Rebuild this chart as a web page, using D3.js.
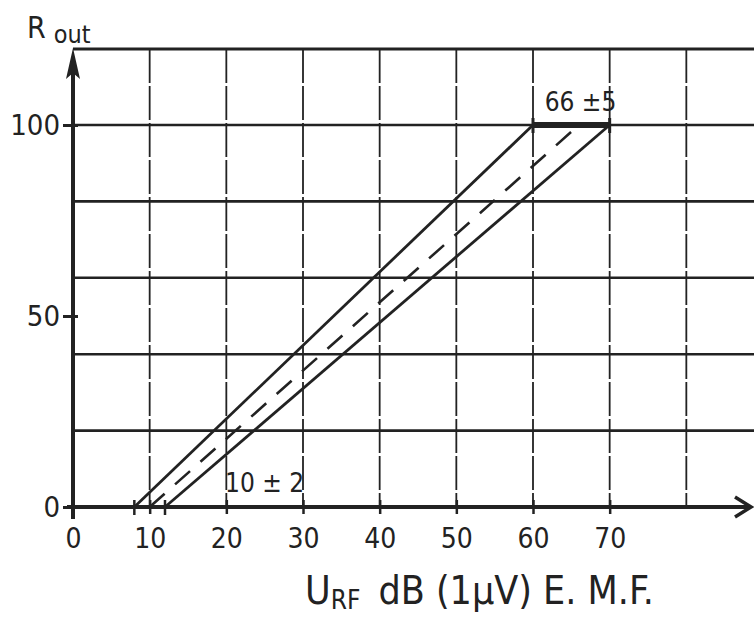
<!DOCTYPE html>
<html>
<head>
<meta charset="utf-8">
<script src="https://cdn.jsdelivr.net/npm/d3@7"></script>
<style>
  body { margin: 0; background: #fff; }
  text { font-family: "DejaVu Sans Condensed", "DejaVu Sans", sans-serif; fill: #222; }
</style>
</head>
<body>
<div id="chart"></div>
<script>
// chart data
var xTicks = [0, 10, 20, 30, 40, 50, 60, 70]
var xMinorTicks = [8, 12]
var xGrid = [10, 20, 30, 40, 50, 60, 70, 80]
var yTicks = [0, 50, 100]
var yGrid = [20, 40, 60, 80, 100]
var upperLine = [[8, 0], [60, 100]]
var lowerLine = [[12, 0], [70, 100]]
var nominalLine = [[10, 0], [66, 100]]
var toleranceBar = [60, 70]
var barLabel = "66 ±5"
var startLabel = "10 ± 2"

var svgWidth = 754
var svgHeight = 617

var svg = d3.select("#chart")
  .append("svg")
  .attr("width", svgWidth)
  .attr("height", svgHeight)

var ink = "#222"

var xScale = d3.scaleLinear().domain([0, 90]).range([73, 763])
var yScale = d3.scaleLinear().domain([0, 100]).range([507, 125])
var yTop = 49

// grid
svg.append("g").selectAll("line")
  .data(xGrid).enter().append("line")
  .attr("x1", d => xScale(d)).attr("x2", d => xScale(d))
  .attr("y1", yTop).attr("y2", yScale(0))
  .attr("stroke", ink).attr("stroke-width", 1.8)
  .attr("stroke-dasharray", "34,3")

svg.append("g").selectAll("line")
  .data(yGrid).enter().append("line")
  .attr("x1", xScale(0)).attr("x2", svgWidth)
  .attr("y1", d => yScale(d)).attr("y2", d => yScale(d))
  .attr("stroke", ink).attr("stroke-width", 2.6)

// top border
svg.append("line")
  .attr("x1", xScale(0)).attr("x2", svgWidth)
  .attr("y1", yTop).attr("y2", yTop)
  .attr("stroke", ink).attr("stroke-width", 3)

// x axis
var bottomAxis = d3.axisBottom(xScale).tickValues(xTicks).tickSize(7).tickPadding(14)
var xAxis = svg.append("g")
  .attr("transform", `translate(0, ${yScale(0)})`)
  .call(bottomAxis)
xAxis.select(".domain").remove()
xAxis.selectAll(".tick line").attr("y1", -7).attr("stroke", ink).attr("stroke-width", 2.5)
xAxis.selectAll(".tick text").style("font-size", "28px").attr("fill", ink).attr("font-family", null)

svg.append("g").selectAll("line")
  .data(xMinorTicks).enter().append("line")
  .attr("x1", d => xScale(d)).attr("x2", d => xScale(d))
  .attr("y1", yScale(0) - 7).attr("y2", yScale(0) + 8)
  .attr("stroke", ink).attr("stroke-width", 2.5)

svg.append("line")
  .attr("x1", xScale(0) - 6).attr("x2", 750)
  .attr("y1", yScale(0)).attr("y2", yScale(0))
  .attr("stroke", ink).attr("stroke-width", 4)
svg.append("path")
  .attr("d", `M735,${yScale(0) - 10} L751,${yScale(0)} L735,${yScale(0) + 10}`)
  .attr("fill", "none").attr("stroke", ink).attr("stroke-width", 3.5)

// y axis
var leftAxis = d3.axisLeft(yScale).tickValues(yTicks).tickSize(10).tickPadding(3)
var yAxis = svg.append("g")
  .attr("transform", `translate(${xScale(0)}, 0)`)
  .call(leftAxis)
yAxis.select(".domain").remove()
yAxis.selectAll(".tick line").attr("x2", 5).attr("x1", -10).attr("stroke", ink).attr("stroke-width", 3)
yAxis.selectAll(".tick text").style("font-size", "29px").attr("fill", ink).attr("font-family", null)

svg.append("line")
  .attr("x1", xScale(0)).attr("x2", xScale(0))
  .attr("y1", yScale(0) + 12).attr("y2", yTop + 10)
  .attr("stroke", ink).attr("stroke-width", 4)
svg.append("path")
  .attr("d", `M${xScale(0)},${yTop - 1} L${xScale(0) + 7},${yTop + 30} L${xScale(0)},${yTop + 24} L${xScale(0) - 7},${yTop + 30} Z`)
  .attr("fill", ink)

// characteristic lines
var line = d3.line().x(d => xScale(d[0])).y(d => yScale(d[1]))

svg.append("path").datum(upperLine).attr("d", line)
  .attr("fill", "none").attr("stroke", ink).attr("stroke-width", 2.8)
svg.append("path").datum(lowerLine).attr("d", line)
  .attr("fill", "none").attr("stroke", ink).attr("stroke-width", 2.8)
svg.append("path").datum(nominalLine).attr("d", line)
  .attr("fill", "none").attr("stroke", ink).attr("stroke-width", 2.6)
  .attr("stroke-dasharray", "20,14")

// tolerance bar at top
svg.append("line")
  .attr("x1", xScale(toleranceBar[0])).attr("x2", xScale(toleranceBar[1]))
  .attr("y1", yScale(100)).attr("y2", yScale(100))
  .attr("stroke", ink).attr("stroke-width", 6)
svg.append("g").selectAll("line")
  .data(toleranceBar).enter().append("line")
  .attr("x1", d => xScale(d)).attr("x2", d => xScale(d))
  .attr("y1", yScale(100) - 7).attr("y2", yScale(100) + 8)
  .attr("stroke", ink).attr("stroke-width", 3)

svg.append("text")
  .attr("x", xScale(66.2)).attr("y", yScale(100) - 14)
  .style("text-anchor", "middle").style("font-size", "26px")
  .text(barLabel)

svg.append("text")
  .attr("x", xScale(25)).attr("y", yScale(0) - 15)
  .style("text-anchor", "middle").style("font-size", "26px")
  .text(startLabel)

// axis titles
var yTitle = svg.append("text").attr("x", 27).attr("y", 38)
yTitle.append("tspan").style("font-size", "30px").text("R")
yTitle.append("tspan").attr("dx", 8).attr("dy", 5).style("font-size", "25px").text("out")

var xTitle = svg.append("text").attr("x", 305).attr("y", 604)
xTitle.append("tspan").style("font-size", "39px").text("U")
xTitle.append("tspan").attr("dy", 5).style("font-size", "26px").text("RF")
xTitle.append("tspan").attr("dx", 18).attr("dy", -5).style("font-size", "39px").text("dB (1µV) E. M.F.")
</script>
</body>
</html>
